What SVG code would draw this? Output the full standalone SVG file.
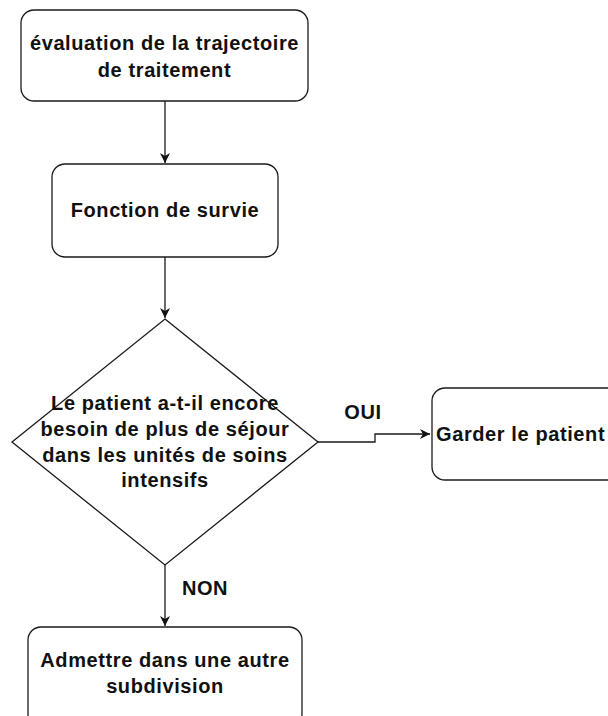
<svg xmlns="http://www.w3.org/2000/svg" width="608" height="716" viewBox="0 0 608 716">
<style>
.box{fill:#fff;stroke:#1a1a1a;stroke-width:1.3}
.t{font-family:"Liberation Sans",Arial,Helvetica,sans-serif;font-weight:bold;font-size:20px;letter-spacing:0.6px;fill:#111;text-anchor:middle}
.c{fill:none;stroke:#1a1a1a;stroke-width:1.3}
</style>
<defs>
<marker id="ah" markerWidth="12" markerHeight="10" refX="10" refY="5" orient="auto" markerUnits="userSpaceOnUse">
<path d="M0,0 L10,5 L0,10 L3,5 Z" fill="#111"/>
</marker>
</defs>
<rect width="608" height="716" fill="#fff"/>
<g id="connectors">
<path class="c" d="M165,101 L165,163" marker-end="url(#ah)"/>
<path class="c" d="M165,257 L165,318" marker-end="url(#ah)"/>
<path class="c" d="M318,442 L375,442 L375,434 L430,434" marker-end="url(#ah)"/>
<path class="c" d="M165,565 L165,626" marker-end="url(#ah)"/>
<text class="t" x="363" y="419">OUI</text>
<text class="t" x="205" y="595">NON</text>
</g>
<g id="n1">
<rect class="box" x="21" y="10" width="287" height="91" rx="13"/>
<text class="t" x="164.5" y="50">évaluation de la trajectoire</text>
<text class="t" x="164.5" y="77">de traitement</text>
</g>
<g id="n2">
<rect class="box" x="52" y="164" width="226" height="93" rx="13"/>
<text class="t" x="165" y="217">Fonction de survie</text>
</g>
<g id="n3">
<path class="box" d="M165,319 L318,442 L165,565 L12,442 Z"/>
<text class="t" x="165" y="410">Le patient a-t-il encore</text>
<text class="t" x="165" y="436">besoin de plus de séjour</text>
<text class="t" x="165" y="462">dans les unités de soins</text>
<text class="t" x="165" y="487">intensifs</text>
</g>
<g id="n4">
<rect class="box" x="432" y="388" width="200" height="92" rx="13"/>
<text class="t" x="436" y="441" style="text-anchor:start">Garder le patient</text>
</g>
<g id="n5">
<rect class="box" x="28" y="627" width="274" height="100" rx="13"/>
<text class="t" x="165" y="667">Admettre dans une autre</text>
<text class="t" x="165" y="693">subdivision</text>
</g>
</svg>
